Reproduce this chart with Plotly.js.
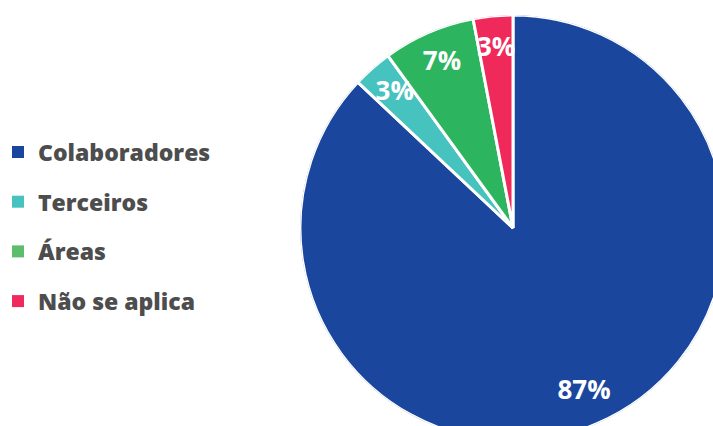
<!DOCTYPE html>
<html>
<head>
<meta charset="utf-8">
<script src="https://cdn.plot.ly/plotly-3.0.1.min.js"></script>
<style>
  html, body { margin: 0; padding: 0; overflow: hidden; background: #ffffff; width: 713px; height: 426px; }
  #chart { width: 740px; height: 450px; }
</style>
</head>
<body>
<div id="chart"></div>
<script>
// ---- data ----
const categories = ["Colaboradores", "Terceiros", "Áreas", "Não se aplica"];
const shares = [87, 3, 7, 3];
const sliceColors = ["#1a479d", "#46c2bf", "#2db45f", "#ef2a5a"];
const legendColors = ["#1a479d", "#46c2bf", "#5cbd6b", "#ef2a5c"];
const pctLabels = shares.map(v => v + "%");

// ---- layout geometry (pixels in a 740x450 canvas, clipped to 713x426) ----
const W = 740, H = 450;
const cx = 513, cy = 228, R = 213;
const pieDomain = {
  x: [(cx - R) / W, (cx + R) / W],
  y: [1 - (cy + R) / H, 1 - (cy - R) / H]
};

// slice angles (clockwise from 12 o'clock) derived from the data
const total = shares.reduce((a, b) => a + b, 0);
let cum = 0;
const midTheta = shares.map(v => { const t = (cum + v / 2) / total * 360; cum += v; return t; });
const widthDeg = shares.map(v => v / total * 360);

const slices = {
  type: "barpolar",
  r: shares.map(() => 1),
  theta: midTheta,
  width: widthDeg,
  text: categories,
  marker: { color: sliceColors, line: { color: "#ffffff", width: 3 } },
  hoverinfo: "text",
  showlegend: false
};

const pctText = {
  type: "scatterpolar",
  mode: "text",
  r: shares.map(() => 0.84),
  theta: midTheta,
  text: pctLabels,
  textfont: { family: "Open Sans", size: 26, color: "#ffffff", weight: 700 },
  textposition: "middle center",
  cliponaxis: false,
  hoverinfo: "skip",
  showlegend: false
};

// manual legend (50px spacing)
const legTop = 152, legStep = 49.7, sq = 12, sqX = 12, txtX = 36;
const shapes = categories.map((c, i) => {
  const yc = legTop + i * legStep;
  return {
    type: "rect", xref: "paper", yref: "paper",
    x0: sqX / W, x1: (sqX + sq) / W,
    y0: 1 - (yc + sq / 2) / H, y1: 1 - (yc - sq / 2) / H,
    fillcolor: legendColors[i], line: { width: 0 }
  };
});
const annotations = categories.map((c, i) => {
  const yc = legTop + i * legStep;
  return {
    text: c, xref: "paper", yref: "paper",
    x: txtX / W, y: 1 - yc / H, xanchor: "left", yanchor: "middle",
    showarrow: false,
    font: { family: "Open Sans", size: 23, color: "#4d4d4d", weight: 800 }
  };
});

const layout = {
  width: W, height: H,
  margin: { l: 0, r: 0, t: 0, b: 0 },
  paper_bgcolor: "#ffffff",
  showlegend: false,
  polar: {
    domain: pieDomain,
    bgcolor: "rgba(0,0,0,0)",
    bargap: 0,
    radialaxis: { range: [0, 1], visible: false },
    angularaxis: { visible: false, rotation: 90, direction: "clockwise" }
  },
  shapes: shapes,
  annotations: annotations
};

Plotly.newPlot("chart", [slices, pctText], layout, { displayModeBar: false, staticPlot: true });
</script>
</body>
</html>
